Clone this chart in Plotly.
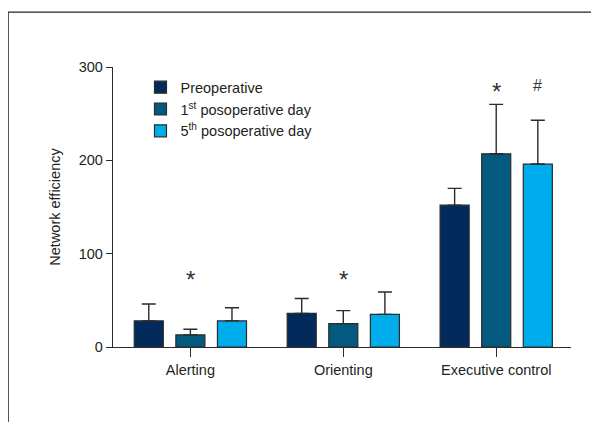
import plotly.graph_objects as go

categories = ["Alerting", "Orienting", "Executive control"]
series_names = ["Preoperative", "1<sup>st</sup> posoperative day", "5<sup>th</sup> posoperative day"]
preop_mean = [28, 36, 152]
preop_sd = [18, 16, 18]
pod1_mean = [13, 25, 207]
pod1_sd = [6, 14, 53]
pod5_mean = [28, 35, 196]
pod5_sd = [14, 24, 47]
sig_marks = ["*", "*", "*", "#"]
sig_series = [1, 1, 1, 2]
sig_category = [0, 1, 2, 2]
sig_y = [72, 72, 274, 280]
y_ticks = [0, 100, 200, 300]

colors = ["#022a5b", "#035a7e", "#00adec"]
means = [preop_mean, pod1_mean, pod5_mean]
sds = [preop_sd, pod1_sd, pod5_sd]

FONT = "Liberation Sans, Arial, sans-serif"
TXT = "#231f20"
PITCH = 0.272
BW = 0.19

fig = go.Figure()
for k in range(3):
    fig.add_trace(go.Bar(
        x=categories, y=means[k], name=series_names[k],
        width=BW, offset=(k - 1) * PITCH - BW / 2,
        marker=dict(color=colors[k], line=dict(color="#2b2b2b", width=1.2)),
        error_y=dict(type="data", array=sds[k], arrayminus=[0] * len(sds[k]),
                     symmetric=False, color="#2b2b2b", thickness=1.4, width=7),
    ))

for m, s, c, yv in zip(sig_marks, sig_series, sig_category, sig_y):
    fig.add_annotation(x=c + (s - 1) * PITCH, y=yv, xref="x", yref="y", text=m,
                       showarrow=False, yanchor="middle",
                       font=dict(family=FONT, size=24 if m == "*" else 16, color="#333"))

# outer frame (top and left edges)
fig.add_shape(type="line", xref="paper", yref="paper", x0=-0.229, x1=1.2, y0=1.196, y1=1.196,
              line=dict(color="#222", width=1.3))
fig.add_shape(type="line", xref="paper", yref="paper", x0=-0.229, x1=-0.229, y0=1.196, y1=-0.35,
              line=dict(color="#222", width=1.3))

fig.update_layout(
    width=599, height=422,
    margin=dict(l=105, r=36, t=59, b=83),
    paper_bgcolor="white", plot_bgcolor="white",
    barmode="overlay",
    font=dict(family=FONT, size=14.5, color=TXT),
    showlegend=True,
    legend=dict(x=0.06, y=0.985, xanchor="left", yanchor="top", bgcolor="rgba(0,0,0,0)",
                font=dict(family=FONT, size=14.5, color=TXT), traceorder="normal"),
    xaxis=dict(type="category", range=[-0.506, 2.489], showline=True, linecolor="#2b2b2b",
               linewidth=1.4, ticks="outside", ticklen=9, tickwidth=1.4, tickcolor="#2b2b2b",
               showgrid=False, zeroline=False, tickfont=dict(size=14.5, color=TXT)),
    yaxis=dict(range=[0, 300], tickvals=y_ticks, showline=True, linecolor="#2b2b2b",
               linewidth=1.4, ticks="outside", ticklen=6, tickwidth=1.4, tickcolor="#2b2b2b",
               showgrid=False, zeroline=False, tickfont=dict(size=14.5, color=TXT),
               title=dict(text="Network efficiency", font=dict(size=14.5, color=TXT), standoff=14)),
)

fig.write_html("out.html")
